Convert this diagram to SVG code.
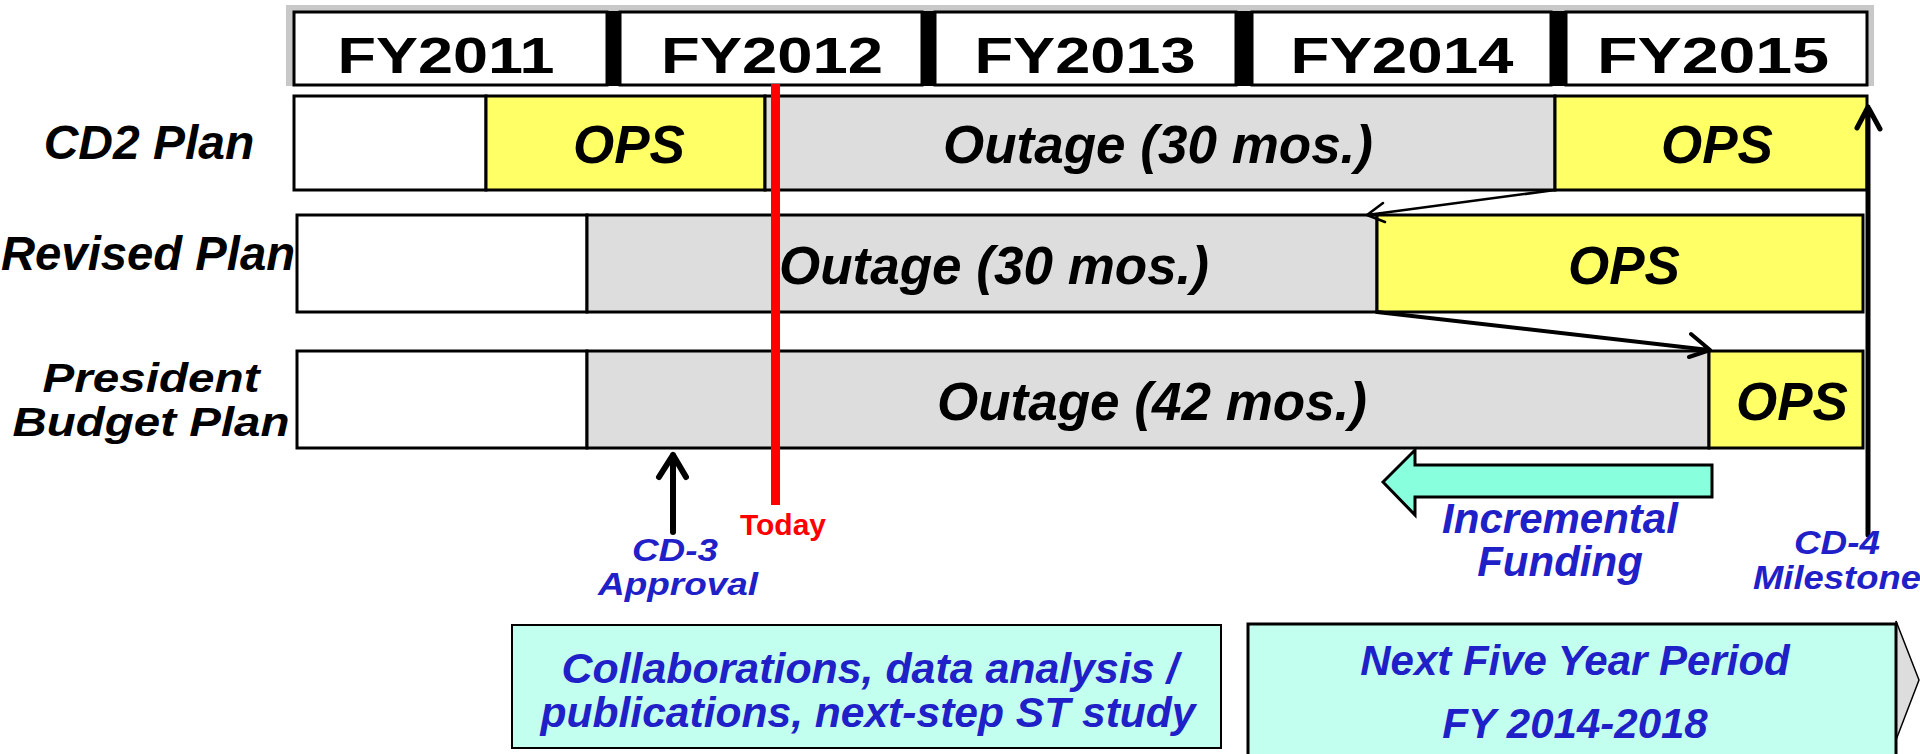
<svg xmlns="http://www.w3.org/2000/svg" width="1920" height="754" viewBox="0 0 1920 754">
<style>
.hb{fill:#fff;stroke:#000;stroke-width:3}
.hd{font-family:"Liberation Sans",Arial,sans-serif;font-weight:bold;font-size:50px;text-anchor:middle;fill:#000}
.lbl{font-family:"Liberation Sans",Arial,sans-serif;font-weight:bold;font-style:italic;font-size:48px;text-anchor:middle;fill:#000}
.bt{font-family:"Liberation Sans",Arial,sans-serif;font-weight:bold;font-style:italic;font-size:53px;text-anchor:middle;fill:#000}
.bl{font-family:"Liberation Sans",Arial,sans-serif;font-weight:bold;font-style:italic;text-anchor:middle;fill:#1f20c8}
.w{fill:#fff;stroke:#000;stroke-width:3}
.y{fill:#ffff66;stroke:#000;stroke-width:3}
.g{fill:#dddddd;stroke:#000;stroke-width:3}
.ln{fill:none;stroke:#000;stroke-linecap:round;stroke-linejoin:round}
</style>
<rect width="1920" height="754" fill="#fff"/>
<g id="header">
<rect x="286" y="5" width="1588" height="81" fill="#c8c8c8"/>
<rect class="hb" x="294" y="12" width="313" height="73"/>
<rect class="hb" x="620" y="12" width="302" height="73"/>
<rect class="hb" x="935" y="12" width="301" height="73"/>
<rect class="hb" x="1252" y="12" width="299" height="73"/>
<rect class="hb" x="1566" y="12" width="301" height="73"/>
<rect x="607" y="11" width="13" height="75" fill="#000"/>
<rect x="922" y="11" width="13" height="75" fill="#000"/>
<rect x="1236" y="11" width="16" height="75" fill="#000"/>
<rect x="1551" y="11" width="15" height="75" fill="#000"/>
<text class="hd" x="446" y="73" textLength="217" lengthAdjust="spacingAndGlyphs">FY2011</text>
<text class="hd" x="772" y="73" textLength="222" lengthAdjust="spacingAndGlyphs">FY2012</text>
<text class="hd" x="1085" y="73" textLength="221" lengthAdjust="spacingAndGlyphs">FY2013</text>
<text class="hd" x="1402" y="73" textLength="223" lengthAdjust="spacingAndGlyphs">FY2014</text>
<text class="hd" x="1713" y="73" textLength="232" lengthAdjust="spacingAndGlyphs">FY2015</text>
</g>
<g id="row-cd2">
<text class="lbl" x="149" y="159">CD2 Plan</text>
<rect class="w" x="294" y="96" width="192" height="94"/>
<rect class="y" x="486" y="96" width="279" height="94"/>
<rect class="g" x="765" y="96" width="790" height="94"/>
<rect class="y" x="1555" y="96" width="312" height="94"/>
<text class="bt" x="629" y="163">OPS</text>
<text class="bt" x="1158" y="163">Outage (30 mos.)</text>
<text class="bt" x="1717" y="163">OPS</text>
</g>
<g id="row-revised">
<text class="lbl" x="148" y="270" textLength="294" lengthAdjust="spacingAndGlyphs">Revised Plan</text>
<rect class="w" x="297" y="215" width="290" height="97"/>
<rect class="g" x="587" y="215" width="790" height="97"/>
<rect class="y" x="1377" y="215" width="486" height="97"/>
<text class="bt" x="994" y="284">Outage (30 mos.)</text>
<text class="bt" x="1624" y="284">OPS</text>
</g>
<g id="row-president">
<text class="lbl" x="151" y="392" style="font-size:41px" textLength="217" lengthAdjust="spacingAndGlyphs">President</text>
<text class="lbl" x="151" y="436" style="font-size:41px" textLength="277" lengthAdjust="spacingAndGlyphs">Budget Plan</text>
<rect class="w" x="297" y="351" width="290" height="97"/>
<rect class="g" x="587" y="351" width="1122" height="97"/>
<rect class="y" x="1709" y="351" width="154" height="97"/>
<text class="bt" x="1152" y="420">Outage (42 mos.)</text>
<text class="bt" x="1792" y="420">OPS</text>
</g>
<g id="connectors">
<path class="ln" stroke-width="2.5" d="M1555,190 L1367,215 M1383,203 L1367,215 L1385,222"/>
<path class="ln" stroke-width="4" d="M1377,312 L1709,350 M1691,334 L1710,350 L1689,357"/>
</g>
<g id="today">
<rect x="771" y="84" width="9" height="421" fill="#ff0000"/>
<text x="783" y="535" font-family="'Liberation Sans',Arial,sans-serif" font-weight="bold" font-size="30" text-anchor="middle" fill="#ff0000">Today</text>
</g>
<g id="cd3">
<path class="ln" stroke-width="6" d="M673,532 L673,455 M659,477 L673,455 L686,477"/>
<text class="bl" x="675" y="561" font-size="32" textLength="86" lengthAdjust="spacingAndGlyphs">CD-3</text>
<text class="bl" x="678" y="595" font-size="32" textLength="160" lengthAdjust="spacingAndGlyphs">Approval</text>
</g>
<g id="cd4">
<path class="ln" stroke-width="5" d="M1868,535 L1868,107 M1857,128 L1868,107 L1880,129"/>
<text class="bl" x="1837" y="554" font-size="33" textLength="86" lengthAdjust="spacingAndGlyphs">CD-4</text>
<text class="bl" x="1753" y="589" font-size="33" style="text-anchor:start" textLength="168" lengthAdjust="spacingAndGlyphs">Milestone</text>
</g>
<g id="incremental">
<polygon points="1383,482 1415,450 1415,465 1712,465 1712,497 1415,497 1415,515" fill="#88ffdd" stroke="#000" stroke-width="3"/>
<text class="bl" x="1560" y="533" font-size="42">Incremental</text>
<text class="bl" x="1560" y="576" font-size="42">Funding</text>
</g>
<g id="box-collab">
<rect x="512" y="625" width="709" height="123" fill="#c2ffee" stroke="#000" stroke-width="2"/>
<text class="bl" x="870" y="683" font-size="42" textLength="617" lengthAdjust="spacingAndGlyphs">Collaborations, data analysis /</text>
<text class="bl" x="868" y="727" font-size="42" textLength="655" lengthAdjust="spacingAndGlyphs">publications, next-step ST study</text>
</g>
<g id="box-next">
<polygon points="1896,621 1919,680 1896,740" fill="#dddddd" stroke="#000" stroke-width="1.5"/>
<rect x="1248" y="624" width="648" height="140" fill="#c2ffee" stroke="#000" stroke-width="3"/>
<text class="bl" x="1575" y="675" font-size="42">Next Five Year Period</text>
<text class="bl" x="1575" y="738" font-size="42">FY 2014-2018</text>
</g>
</svg>
